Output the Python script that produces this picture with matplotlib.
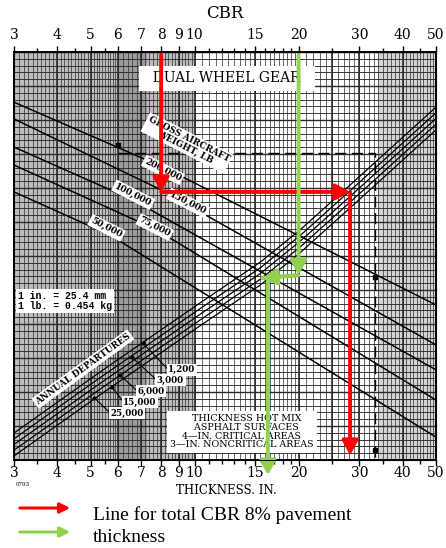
import numpy as np
import matplotlib.pyplot as plt
from matplotlib.patches import FancyArrowPatch

# CBR scale (top and bottom)
cbr_ticks = [3, 4, 5, 6, 7, 8, 9, 10, 15, 20, 30, 40, 50]
cbr_minor = [3.5, 4.5, 5.5, 11, 12, 13, 14, 16, 17, 18, 19, 25, 35, 45]

# gross aircraft weight curves (CBR, chart height 0-100)
weight_names = ['200,000', '150,000', '100,000', '75,000', '50,000']
weight_cbr = [[3, 8.19, 50],
              [3, 8.0, 50],
              [3, 6.64, 50],
              [3, 7.77, 50],
              [3, 5.7, 50]]
weight_y = [[87.7, 71.6, 38.0],
            [83.6, 66.2, 28.2],
            [76.7, 63.7, 22.1],
            [72.3, 56.4, 14.7],
            [65.7, 55.1, 5.6]]
weight_lab_cbr = [8.1, 9.57, 6.64, 7.67, 5.56]
weight_lab_y = [71.1, 63.0, 65.0, 57.1, 56.9]

# annual departures curves
dep_names = ['1,200', '3,000', '6,000', '15,000', '25,000']
dep_cbr = [3, 5.33, 10.37, 15.5, 20.2, 28.2, 50]
dep_y_top = [6.6, 21.6, 38.5, 48.5, 56.4, 67.4, 86.5]
dep_step = 1.4
dep_lab_cbr = [8.4, 7.77, 6.82, 6.22, 5.7]
dep_lab_y = [22.1, 19.6, 16.9, 14.2, 11.5]
dep_lead_cbr = [7.08, 6.58, 6.09, 5.77, 5.13]
dep_lead_y = [28.7, 25.2, 20.8, 17.9, 15.2]

# example dashed path of the original chart
dash_cbr = [6.0, 33.3, 33.3]
dash_y = [75.2, 75.2, 0.0]
dot_cbr = [6.0, 33.3, 33.3]
dot_y = [77.2, 44.9, 2.5]

# red and green worked paths
red_cbr = [8.0, 8.0, 28.2, 28.2]
red_y = [99.3, 65.7, 65.7, 1.2]
green_cbr = [20.0, 20.0, 15.7, 16.3, 16.3]
green_y = [99.3, 45.3, 44.6, 44.6, -3.7]

RED = '#ff0000'
GREEN = '#92d050'
serif = 'DejaVu Serif'

fig = plt.figure(figsize=(4.46, 5.48), dpi=100)
ax = fig.add_axes([14 / 446, 88 / 548, 422 / 446, 408 / 548])
ax.set_xscale('log')
ax.set_xlim(3, 50)
ax.set_ylim(0, 100)

# shading
ax.axvspan(3, 10, color='#bdbdbd', zorder=0, lw=0)
ax.axvspan(6, 7.3, color='#9c9c9c', zorder=0, lw=0)
ax.axvspan(34, 50, color='#d4d4d4', zorder=0, lw=0)

# grid
vx = np.concatenate([np.arange(3, 6, 0.1), np.arange(6, 10, 0.2),
                     np.arange(10, 20, 0.5), np.arange(20, 50.01, 1)])
for v in vx:
    ax.axvline(v, color='#3a3a3a', lw=0.55, zorder=1)
for v in [3, 4, 5, 6, 7, 8, 9, 10, 15, 20, 25, 30, 40, 50]:
    ax.axvline(v, color='#222', lw=1.1, zorder=1)
for i, h in enumerate(np.linspace(0, 100, 61)):
    ax.axhline(h, color='#2a2a2a', lw=1.0 if i % 5 == 0 else 0.65, zorder=1)

# curves
for c, yv in zip(weight_cbr, weight_y):
    ax.plot(c, yv, color='black', lw=1.1, zorder=2)
for k in range(5):
    ax.plot(dep_cbr, np.array(dep_y_top) - k * dep_step, color='black', lw=0.9, zorder=2)

ax.plot(dash_cbr, dash_y, color='black', lw=1.0, dashes=(8, 4), zorder=2)
ax.plot(dot_cbr, dot_y, 's', color='black', ms=3, zorder=2)

box = dict(facecolor='white', edgecolor='none', pad=1.2)
for name, x, y in zip(weight_names, weight_lab_cbr, weight_lab_y):
    ax.text(x, y, name, rotation=-27, ha='center', va='center', fontsize=6.5,
            family=serif, weight='bold', bbox=box, zorder=3)
ax.text(9.5, 77.7, 'GROSS AIRCRAFT\nWEIGHT, LB', rotation=-27, ha='center', va='center',
        fontsize=6.3, family=serif, weight='bold', linespacing=1.0, bbox=box, zorder=3)

for name, x, y, lx, ly in zip(dep_names, dep_lab_cbr, dep_lab_y, dep_lead_cbr, dep_lead_y):
    ax.plot([x, lx], [y, ly], color='black', lw=0.8, zorder=2)
    ax.plot([lx], [ly], 'o', color='black', ms=2, zorder=2)
    ax.text(x, y, name, ha='left', va='center', fontsize=6.3, family=serif,
            weight='bold', bbox=box, zorder=3)
ax.text(4.75, 22.3, 'ANNUAL DEPARTURES', rotation=36, ha='center', va='center',
        fontsize=6.3, family=serif, weight='bold', bbox=box, zorder=3)

ax.text(12.4, 93.6, '  DUAL WHEEL GEAR  ', ha='center', va='center', fontsize=10,
        family=serif, bbox=dict(facecolor='white', edgecolor='none', pad=4), zorder=3)
ax.text(3.08, 39.0, '1 in. = 25.4 mm\n1 lb. = 0.454 kg', ha='left', va='center',
        fontsize=7, family='Liberation Mono', weight='bold', linespacing=1.0,
        bbox=dict(facecolor='white', edgecolor='none', pad=1.5), zorder=3)
ax.text(13.7, 6.9, '   THICKNESS HOT MIX\n   ASPHALT SURFACES\n4\u2014IN. CRITICAL AREAS\n3\u2014IN. NONCRITICAL AREAS',
        ha='center', va='center', fontsize=6.8, family=serif, linespacing=0.95,
        bbox=dict(facecolor='white', edgecolor='none', pad=2.5), zorder=3)

# worked paths
def path_arrows(xs, ys, color, pairs):
    for a, b in pairs:
        ax.annotate('', xy=(xs[b], ys[b]), xytext=(xs[a], ys[a]),
                    arrowprops=dict(arrowstyle='-|>,head_length=0.5,head_width=0.28',
                                    color=color, lw=2.8, mutation_scale=17,
                                    shrinkA=0, shrinkB=0),
                    annotation_clip=False, zorder=5)

path_arrows(red_cbr, red_y, RED, [(0, 1), (1, 2), (2, 3)])
path_arrows(green_cbr, green_y, GREEN, [(0, 1), (1, 2), (3, 4)])
ax.plot(green_cbr[1:4], green_y[1:4], color=GREEN, lw=2.8, zorder=5, solid_capstyle='butt')

# axes and ticks: bottom on ax, top on a twin
for s in ax.spines.values():
    s.set_linewidth(1.4)
ax.set_yticks([])
top = ax.twiny()
top.set_xscale('log')
top.set_xlim(3, 50)
for a, pad in [(ax, 0.0), (top, 2.5)]:
    a.set_xticks(cbr_ticks)
    a.set_xticklabels([str(t) for t in cbr_ticks])
    a.set_xticks(cbr_minor, minor=True)
    a.set_xticklabels([], minor=True)
    a.tick_params(axis='x', which='major', length=4.5, width=1.0, labelsize=10,
                  direction='out', pad=pad)
    a.tick_params(axis='x', which='minor', length=3, width=1.0, direction='out')
    for lab in a.get_xticklabels():
        lab.set_family(serif)

fig.text(225 / 446, 1 - 13 / 548, 'CBR', ha='center', va='center', fontsize=12, family=serif)
fig.text(226 / 446, 1 - 491 / 548, 'THICKNESS. IN.', ha='center', va='center',
         fontsize=8.5, family=serif)
fig.text(16 / 446, 1 - 484 / 548, '0793', ha='left', va='center', fontsize=4, family=serif)

# legend
for yy, col in [(508, RED), (532, GREEN)]:
    fig.add_artist(FancyArrowPatch(
        (17 / 446, 1 - yy / 548), (73 / 446, 1 - yy / 548), transform=fig.transFigure,
        arrowstyle='-|>,head_length=0.6,head_width=0.3', mutation_scale=10,
        color=col, lw=2.2))
fig.text(93 / 446, 1 - 515 / 548, 'Line for total CBR 8% pavement', ha='left', va='center',
         fontsize=14, family='Liberation Serif')
fig.text(93 / 446, 1 - 538 / 548, 'thickness', ha='left', va='center',
         fontsize=14, family='Liberation Serif')

fig.savefig('out.png', dpi=100)
